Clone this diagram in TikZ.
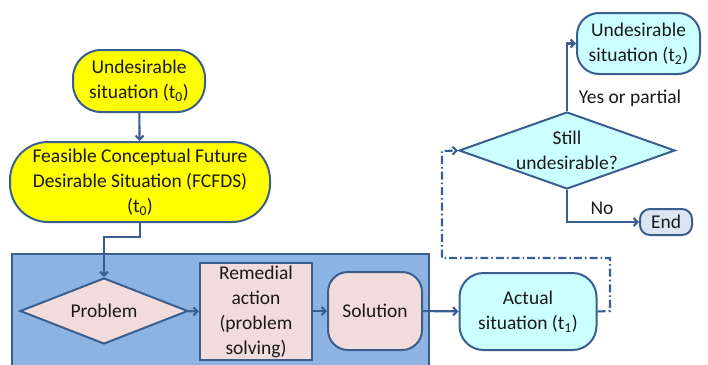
\documentclass[tikz,border=0pt]{standalone}
\usepackage{fontspec}
\setmainfont{Carlito}
\usetikzlibrary{shapes.geometric,arrows.meta}
\definecolor{edgeblue}{HTML}{3A5F8E}
\definecolor{termyellow}{HTML}{FFFF00}
\definecolor{lightcyan}{HTML}{CCFFFF}
\definecolor{panelblue}{HTML}{8DB3E2}
\definecolor{pinkfill}{HTML}{F2DCDB}
\definecolor{endfill}{HTML}{DCE6F2}
\tikzset{
  txt/.style={font=\fontsize{19.5}{25}\selectfont, text=black!90, align=center},
  base/.style={draw=edgeblue, line width=2pt, inner sep=0pt, txt},
  term/.style={base, rectangle, rounded corners=24pt},
  decision/.style={base, diamond},
  procbox/.style={base, rectangle},
  flow/.style={draw=edgeblue, line width=2.1pt, -{Straight Barb[length=4pt,width=8pt]}},
  loop/.style={flow, dash pattern=on 8pt off 3pt on 1.6pt off 3pt},
  lbl/.style={txt, inner sep=0pt}
}
\newcommand{\tsub}[1]{\textsubscript{#1}}
\begin{document}
\begin{tikzpicture}[x=1pt,y=-1pt]
\useasboundingbox (0,0) rectangle (708,364);
\fill[white] (0,0) rectangle (708,364);
% shaded panel holding the problem-solving steps
\draw[fill=panelblue, draw=edgeblue, line width=1.2pt] (12,254) rectangle (429,370);

% left column
\node[term, fill=termyellow, rounded corners=28pt, minimum width=132pt, minimum height=62pt] (u0) at (139,81)
  {Undesirable\\situation (t\tsub{0})};
\node[term, fill=termyellow, rounded corners=38pt, minimum width=260pt, minimum height=80pt] (fc) at (140,182)
  {Feasible Conceptual Future\\Desirable Situation (FCFDS)\\(t\tsub{0})};

% problem-solving row
\node[decision, fill=pinkfill, minimum width=168pt, minimum height=66pt,
  label={[txt]center:Problem}] (pb) at (104,311) {};
\node[procbox, fill=pinkfill, minimum width=112pt, minimum height=97pt] (ra) at (256,311.5)
  {Remedial\\action\\(problem\\solving)};
\node[term, fill=pinkfill, rounded corners=20pt, minimum width=94pt, minimum height=78pt] (so) at (375,311) {Solution};
\node[term, fill=lightcyan, rounded corners=24pt, minimum width=137pt, minimum height=77pt] (ac) at (528,311.5)
  {Actual\\situation (t\tsub{1})};

% right column
\node[decision, fill=lightcyan, minimum width=216pt, minimum height=77pt,
  label={[txt]center:Still\\undesirable?}] (st) at (567,150.5) {};
\node[term, fill=lightcyan, rounded corners=22pt, minimum width=123pt, minimum height=61pt] (u2) at (638.5,43.5)
  {Undesirable\\situation (t\tsub{2})};
\node[term, fill=endfill, rounded corners=10pt, minimum width=52pt, minimum height=26pt] (en) at (666,222) {End};

\node[lbl] (yp) at (630,98) {Yes or partial};
\node[lbl] (no) at (602,208) {No};

% connectors
\coordinate (k1) at (140,237);
\coordinate (k2) at (104,237);
\coordinate (l1) at (610,311);
\coordinate (l2) at (610,258);
\coordinate (l3) at (442,258);
\coordinate (l4) at (442,151);

\draw[flow] (u0) -- (fc);
\draw[flow] (fc.south) -- (k1) -- (k2) -- (pb.north);
\draw[flow] (pb) -- (ra);
\draw[flow] (ra.east |- so) -- (so);
\draw[flow] (so) -- (ac);
\draw[loop] (ac.east) -- (l1) -- (l2) -- (l3) -- (l4) -- (st.west);
\draw[flow] (st.north) |- (u2.west);
\draw[flow] (st.south) |- (en.west);
\end{tikzpicture}
\end{document}
